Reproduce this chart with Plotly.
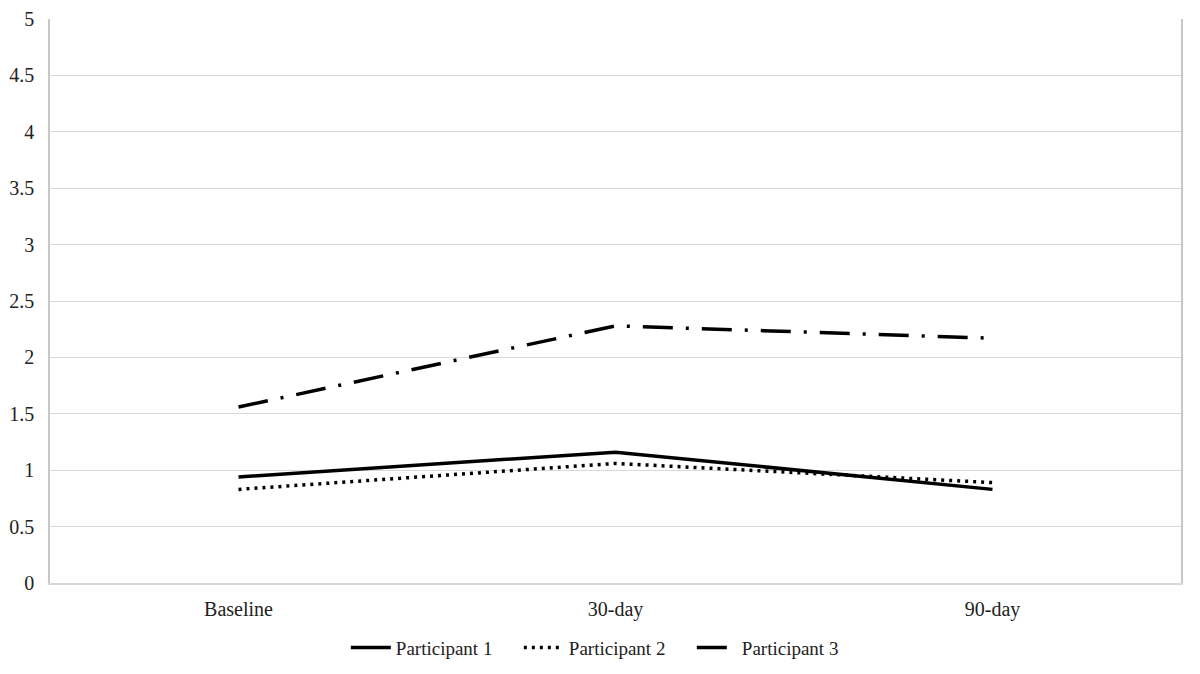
import plotly.graph_objects as go

categories = ["Baseline", "30-day", "90-day"]
participant1 = [0.94, 1.16, 0.83]
participant2 = [0.83, 1.06, 0.89]
participant3 = [1.56, 2.28, 2.17]
series_names = ["Participant 1", "Participant 2", "Participant 3"]

fig = go.Figure()
fig.add_trace(go.Scatter(x=categories, y=participant1, mode="lines", name=series_names[0],
                         line=dict(color="black", width=3.5)))
fig.add_trace(go.Scatter(x=categories, y=participant2, mode="lines", name=series_names[1],
                         line=dict(color="black", width=3.5, dash="3px,5px")))
fig.add_trace(go.Scatter(x=categories, y=participant3, mode="lines", name=series_names[2],
                         line=dict(color="black", width=3.5, dash="30px,13px,3px,13px")))

font = "Times New Roman, Liberation Serif, serif"
fig.update_layout(
    width=1192, height=666,
    margin=dict(l=42, r=19, t=11, b=91),
    paper_bgcolor="white", plot_bgcolor="white",
    font=dict(family=font, size=20, color="#222"),
    showlegend=True,
    legend=dict(orientation="h", x=0.491, xanchor="center",
                yref="container", y=0.068, yanchor="top",
                font=dict(family=font, size=19, color="#222"), itemwidth=40,
                entrywidth=118),
    xaxis=dict(type="category", range=[-0.5, 2.5], showgrid=False, automargin=False,
               showline=True, linecolor="#d9d9d9", linewidth=1.5,
               ticks="", ticklabelstandoff=7, tickfont=dict(family=font, size=20)),
    yaxis=dict(range=[0, 5], dtick=0.5, showgrid=True, gridcolor="#d9d9d9", gridwidth=1,
               automargin=False,
               showline=True, linecolor="#c8c8c8", linewidth=1.5, mirror=True,
               zeroline=False, ticks="", ticklabelstandoff=10, tickfont=dict(family=font, size=20)),
)

fig.write_html("out.html")
